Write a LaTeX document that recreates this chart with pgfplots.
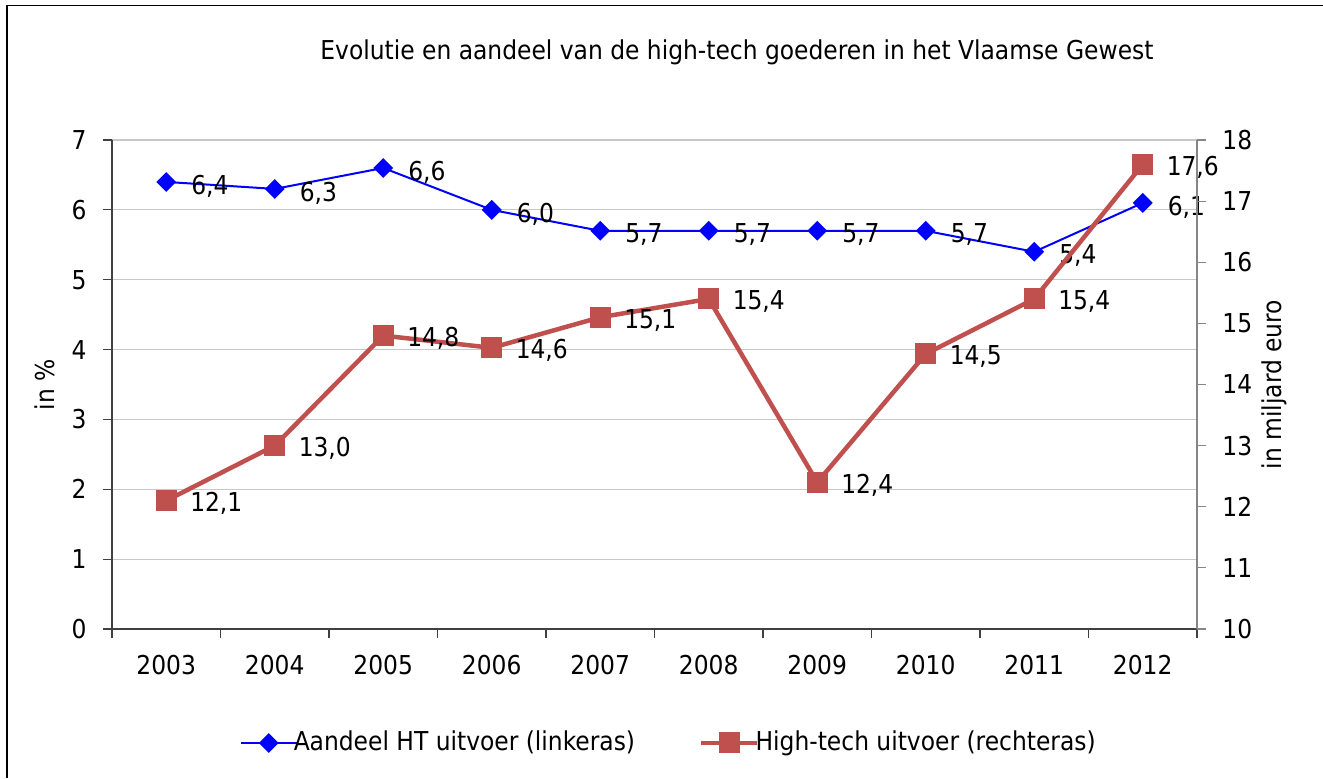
\documentclass[border=0pt]{standalone}
\usepackage{fontspec}
\setmainfont{DejaVu Sans Condensed}
\usepackage{pgfplots}
\pgfplotsset{compat=1.18}
\definecolor{redser}{HTML}{C0504D}
\definecolor{gridc}{HTML}{C8C8C8}
\definecolor{axc}{HTML}{404040}
\definecolor{raxc}{HTML}{868686}
\begin{document}
\fontsize{13pt}{15pt}\selectfont
\begin{tikzpicture}[x=1pt,y=1pt]
\useasboundingbox (0,0) rectangle (661.5,389);
\draw[line width=0.9pt] (3.5,0) -- (3.5,386.25) -- (661.5,386.25);
\node[anchor=center] at (368.5,363) {Evolutie en aandeel van de high-tech goederen in het Vlaamse Gewest};
\begin{axis}[
  at={(56pt,74.5pt)}, anchor=south west,
  scale only axis, width=542.5pt, height=244.5pt,
  xmin=-0.5, xmax=9.5, ymin=0, ymax=7,
  axis x line*=bottom, axis y line*=left,
  axis line style={axc, line width=0.6pt},
  xtick={0,...,9},
  xticklabels={2003,2004,2005,2006,2007,2008,2009,2010,2011,2012},
  minor xtick={-0.5,0.5,1.5,2.5,3.5,4.5,5.5,6.5,7.5,8.5,9.5},
  major x tick style={draw=none},
  minor x tick style={axc, line width=0.6pt},
  ytick={0,...,7},
  y tick style={axc, line width=0.6pt},
  tick align=outside, major tick length=4.5pt, minor tick length=4.5pt,
  ymajorgrids, grid style={gridc, line width=0.6pt},
  /pgf/number format/assume math mode=true,
  tick label style={font=\fontsize{13pt}{15pt}\selectfont},
  yticklabel style={anchor=east, inner sep=0pt, xshift=-8pt},
  xticklabel style={anchor=base, inner sep=0pt, yshift=-18pt},
  ylabel={in \%},
  every axis y label/.style={at={(axis description cs:-0.0617,0.5)}, rotate=90, anchor=center, font=\fontsize{13pt}{15pt}\selectfont},
  nodes near coords={\pgfmathprintnumber[fixed, fixed zerofill, precision=1, use comma, assume math mode=true]{\pgfplotspointmeta}},
  every node near coord/.style={anchor=west, inner sep=0pt, xshift=12pt, yshift=-2pt, font=\fontsize{13pt}{15pt}\selectfont, text=black},
  clip=false,
]
\addplot[color=blue, line width=1pt, mark=square*, mark size=3pt, mark options={rotate=45, fill=blue, draw=blue}] coordinates {
(0,6.4) (1,6.3) (2,6.6) (3,6.0) (4,5.7) (5,5.7) (6,5.7) (7,5.7) (8,5.4) (9,6.1)};
\end{axis}
\begin{axis}[
  at={(56pt,74.5pt)}, anchor=south west,
  scale only axis, width=542.5pt, height=244.5pt,
  xmin=-0.5, xmax=9.5, ymin=10, ymax=18,
  axis x line=none, axis y line*=right,
  axis line style={raxc, line width=0.6pt},
  ytick={10,...,18},
  y tick style={raxc, line width=0.6pt},
  tick align=outside, major tick length=4.5pt,
  /pgf/number format/assume math mode=true,
  tick label style={font=\fontsize{13pt}{15pt}\selectfont},
  yticklabel style={anchor=west, inner sep=0pt, xshift=8pt},
  ylabel={in miljard euro},
  every axis y label/.style={at={(axis description cs:1.0714,0.5)}, rotate=90, anchor=center, font=\fontsize{13pt}{15pt}\selectfont},
  nodes near coords={\pgfmathprintnumber[fixed, fixed zerofill, precision=1, use comma, assume math mode=true]{\pgfplotspointmeta}},
  every node near coord/.style={anchor=west, inner sep=0pt, xshift=12pt, yshift=-1.5pt, font=\fontsize{13pt}{15pt}\selectfont, text=black},
  clip=false,
  legend columns=2,
  legend style={at={(axis description cs:0.514,-0.233)}, anchor=center, draw=none, fill=none, font=\fontsize{13pt}{15pt}\selectfont, inner sep=0pt,
    /tikz/every even column/.append style={column sep=30pt}},
  legend cell align=left,
  legend image code/.code={\draw[#1, mark repeat=2, mark phase=2] plot coordinates {(0pt,0pt) (14pt,0pt) (28pt,0pt)};},
]
\addlegendimage{color=blue, line width=1pt, mark=square*, mark size=3pt, mark options={rotate=45, fill=blue, draw=blue}}
\addlegendentry{\hspace{-4pt}Aandeel HT uitvoer (linkeras)}
\addplot[color=redser, line width=2.25pt, mark=square*, mark size=5pt, mark options={fill=redser, draw=redser, line width=0pt}] coordinates {
(0,12.1) (1,13.0) (2,14.8) (3,14.6) (4,15.1) (5,15.4) (6,12.4) (7,14.5) (8,15.4) (9,17.6)};
\addlegendentry{\hspace{-4pt}High-tech uitvoer (rechteras)}
\end{axis}
\end{tikzpicture}
\end{document}
